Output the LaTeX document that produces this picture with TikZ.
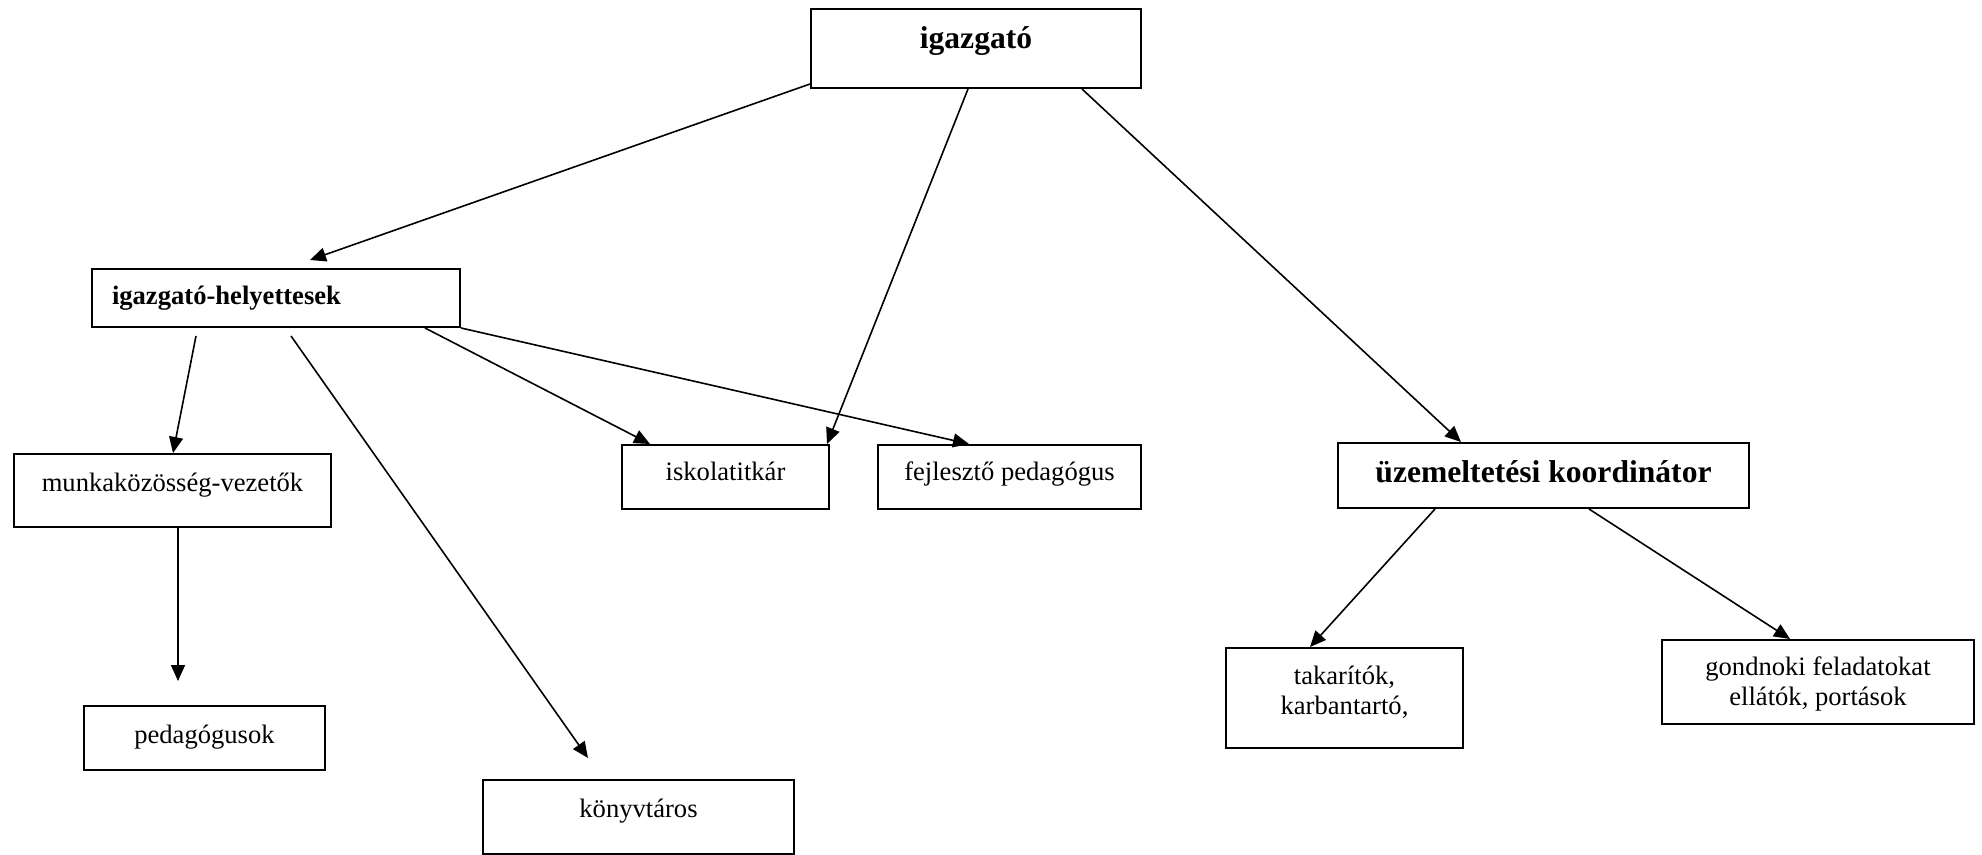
\documentclass[tikz,border=0pt]{standalone}
\usepackage{fontspec}
\setmainfont{Liberation Serif}
\usetikzlibrary{arrows.meta}

\begin{document}
\begin{tikzpicture}[x=0.5pt,y=-0.5pt,
     box/.style={draw,line width=1pt,anchor=north west,inner sep=0pt,
       align=center,font=\fontsize{13.3}{15}\selectfont},
     big box/.style={box,font=\fontsize{15.8}{18}\selectfont\bfseries},
     link/.style={line width=0.8pt,-{Triangle[length=8pt,width=7pt]}}]

      \useasboundingbox (0,0) rectangle (1982,855);

      \node[big box,minimum width=165pt,text height=20pt,text depth=19.5pt] (igazgato) at (810,8) {igazgató};
      \node[box,font=\fontsize{13.3}{15}\selectfont\bfseries,text width=164pt,inner xsep=10pt,align=left,
        text height=18pt,text depth=11pt] (helyettes) at (91,268) {igazgató-helyettesek};
      \node[box,minimum width=158.5pt,text height=19pt,text depth=17.5pt] (mkvezeto) at (13,453) {munkaközösség-vezetők};
      \node[box,minimum width=120.5pt,text height=18.5pt,text depth=13.5pt] (pedagogus) at (83,705) {pedagógusok};
      \node[box,minimum width=155.5pt,text height=18.5pt,text depth=18.5pt] (konyvtaros) at (482,779) {könyvtáros};
      \node[box,minimum width=103.5pt,text height=18pt,text depth=14pt] (titkar) at (621,444) {iskolatitkár};
      \node[box,minimum width=131.5pt,text height=18pt,text depth=14pt] (fejleszto) at (877,444) {fejlesztő pedagógus};
      \node[big box,minimum width=205.5pt,text height=20pt,text depth=12.5pt] (koord) at (1337,442) {üzemeltetési koordinátor};
      \node[box,minimum width=118.5pt,text height=33pt,text depth=17pt] (takarito) at (1225,647) {takarítók,\\karbantartó,};
      \node[box,minimum width=156pt,text height=32.5pt,text depth=9.5pt] (gondnok) at (1661,639) {gondnoki feladatokat\\ellátók, portások};

      % igazgato
      \draw[link] ([yshift=2.5pt]igazgato.south west) -- ([xshift=109.5pt,yshift=4pt]helyettes.north west);
      \draw[link] ([xshift=79pt]igazgato.south west) -- ([xshift=-1.5pt]titkar.north east);
      \draw[link] ([xshift=136pt]igazgato.south west) -- ([xshift=62pt]koord.north west);

      % helyettesek
      \draw[link] ([xshift=52.5pt,yshift=-4pt]helyettes.south west) -- ([xshift=80pt]mkvezeto.north west);
      \draw[link] ([xshift=100pt,yshift=-4pt]helyettes.south west) -- ([xshift=53pt,yshift=10.5pt]konyvtaros.north west);
      \draw[link] ([xshift=167pt]helyettes.south west) -- ([xshift=14.5pt]titkar.north west);
      \draw[link] (helyettes.south east) -- ([xshift=46pt]fejleszto.north west);
      \draw[link] ([xshift=82.5pt]mkvezeto.south west) -- ([xshift=47.5pt,yshift=12pt]pedagogus.north west);

      % koordinator
      \draw[link] ([xshift=49pt]koord.south west) -- ([xshift=42.5pt]takarito.north west);
      \draw[link] ([xshift=126pt]koord.south west) -- ([xshift=64.5pt]gondnok.north west);
    \end{tikzpicture}
\end{document}
